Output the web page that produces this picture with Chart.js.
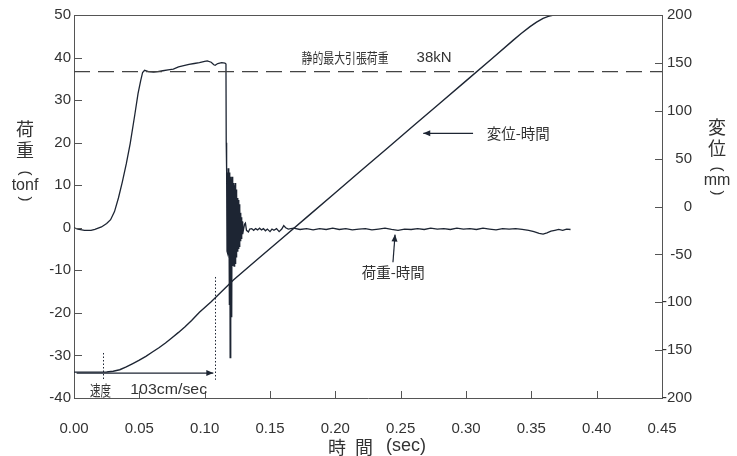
<!DOCTYPE html>
<html><head><meta charset="utf-8">
<script src="https://cdn.jsdelivr.net/npm/chart.js@4.4.1/dist/chart.umd.min.js"></script>
<style>html,body{margin:0;padding:0;background:#fff;} canvas{display:block;}</style>
</head><body>
<canvas id="c" width="737" height="456"></canvas>
<script>
// ---------- data ----------
// load (tonf, left axis) vs time (sec)
const loadTime = [
  0.000,0.003,0.008,0.013,0.016,0.021,0.025,0.028,0.031,0.034,0.037,0.040,0.043,0.0465,0.049,0.051,0.0525,0.054,
  0.057,0.061,0.064,0.068,0.072,0.076,0.080,0.084,0.088,0.092,0.096,0.100,0.102,0.105,0.107,0.108,0.110,0.113,0.1155,0.1163,
  0.1165,0.1168,0.1171,0.1174,0.1177,0.1180,0.1183,0.1186,0.1189,0.1192,0.1195,0.1198,0.1201,0.1204,0.1207,0.1210,
  0.1213,0.1216,0.1219,0.1222,0.1225,0.1228,0.1231,0.1234,0.1237,0.1240,0.1243,0.1246,0.1249,0.1252,0.1255,0.1258,
  0.1261,0.1264,0.1267,0.1270,0.1273,0.1276,0.1279,0.1282,0.1285,0.1288,0.1291,
  0.1296,0.1305,0.1312,0.1320,0.1335,0.1345,0.1360,0.1375,0.1390,0.1405,0.1420,0.1435,0.1450,0.1465,0.1480,0.1500,
  0.1515,0.1530,0.1550,0.1570,0.1590,0.1605,0.1620,0.1640,
  0.168,0.173,0.178,0.183,0.188,0.193,0.198,0.203,0.208,0.213,0.218,0.223,0.228,0.233,0.238,0.243,0.248,0.253,
  0.258,0.263,0.268,0.273,0.278,0.283,0.288,0.293,0.298,0.303,0.308,0.313,0.318,0.323,0.328,0.333,0.338,0.343,
  0.348,0.352,0.356,0.359,0.362,0.365,0.368,0.371,0.374,0.377,0.380
];
const loadValue = [
  0.0,-0.3,-0.6,-0.6,-0.4,0.2,1.0,1.9,3.8,7.0,10.8,15.0,19.8,26.5,31.5,34.5,36.5,37.0,
  36.7,36.6,36.7,36.9,37.1,37.3,37.8,38.1,38.4,38.6,38.8,39.1,39.2,38.9,38.3,38.2,38.6,38.8,38.7,38.5,
  20.0,13.5,-5.5,13.0,-6.0,14.0,-6.5,13.5,-18.0,13.0,-30.5,12.0,-22.0,11.5,-21.0,12.0,
  -9.0,11.0,-8.5,10.5,-9.0,10.0,-8.0,10.5,-8.5,9.0,-7.0,8.0,-5.5,7.0,-5.0,6.5,
  -5.0,5.5,-4.5,4.5,-3.0,3.5,-2.5,2.5,-2.0,1.5,-1.5,
  -0.6,0.8,1.1,-0.6,-1.0,-0.3,-0.2,-0.6,-0.2,-0.5,-0.1,-0.5,-0.2,-0.7,-0.3,-0.9,
  -0.3,-0.6,-0.2,-0.9,-0.3,0.5,0.0,-0.3,
  -0.1,-0.4,-0.2,-0.5,-0.2,-0.4,-0.1,-0.4,-0.2,-0.5,-0.3,-0.2,-0.5,-0.3,-0.1,-0.4,-0.6,-0.3,
  -0.4,-0.2,-0.4,-0.1,-0.3,-0.2,-0.4,-0.1,-0.3,-0.2,-0.4,-0.1,-0.3,-0.5,-0.2,-0.3,-0.2,-0.4,
  -0.6,-0.9,-1.3,-1.5,-1.2,-0.8,-0.6,-0.4,-0.6,-0.3,-0.4
];
// displacement (mm, right axis) vs time (sec)
const dispTime = [
  0.000,0.020,0.025,0.030,0.035,0.040,0.045,0.050,0.055,0.060,0.065,0.070,0.075,0.080,0.085,0.090,0.096,0.105,
  0.122,0.140,0.160,0.180,0.200,0.220,0.240,0.260,0.280,0.300,0.320,0.336,0.342,0.349,0.354,0.359,0.363,0.367
];
const dispValue = [
  -173,-173,-172.8,-172,-170.5,-167.5,-164,-160.5,-156.5,-152,-147.5,-142.5,-137,-131.5,-125.5,-119,-110.5,-99.5,
  -76.8,-55.7,-32.3,-9,14.4,37.8,61.1,84.5,107.8,131.2,154.5,173.5,180.5,187.8,192.5,196.5,198.5,200
];
// static max tensile load reference line (left axis)
const refTime = [0, 0.45];
const refValue = [36.7, 36.7];

// ticks
const xTicks = [0,0.05,0.10,0.15,0.20,0.25,0.30,0.35,0.40,0.45];
const leftTicks = [-40,-30,-20,-10,0,10,20,30,40,50];
const rightTicks = [-200,-150,-100,-50,0,50,100,150,200];

// texts
const xTitle = ['時','間','(sec)'];
const leftTitle = ['荷','重','tonf'];
const rightTitle = ['変','位','mm'];
const refLabel = ['静的最大引張荷重','38kN'];
const dispLabel = '変位-時間';
const loadLabel = '荷重-時間';
const speedLabel = ['速度','103cm/sec'];

// ---------- rendering ----------
const INK = '#1d2533';
const AXIS = '#555';
const TXT = '#333';
const LAT = '"Liberation Sans", Arial, sans-serif';
const CJK = '"Noto Sans CJK JP", sans-serif';

const pts = (xs, ys) => xs.map((x, i) => ({x, y: ys[i]}));

function text(ctx, s, x, y, font, align, targetW, rot) {
  ctx.save();
  ctx.font = font;
  ctx.textBaseline = 'middle';
  ctx.fillStyle = TXT;
  const w = ctx.measureText(s).width;
  let sx = 1;
  if (targetW && w > 0) sx = targetW / w;
  ctx.translate(x, y);
  if (rot) ctx.rotate(rot);
  ctx.scale(sx, 1);
  ctx.textAlign = align || 'left';
  ctx.fillText(s, 0, 0);
  ctx.restore();
}
function arrow(ctx, x1, y1, x2, y2) {
  ctx.save();
  ctx.strokeStyle = INK; ctx.fillStyle = INK; ctx.lineWidth = 1.2;
  ctx.beginPath(); ctx.moveTo(x1, y1); ctx.lineTo(x2, y2); ctx.stroke();
  const ang = Math.atan2(y2 - y1, x2 - x1);
  const L = 7, W = 3;
  ctx.beginPath();
  ctx.moveTo(x2, y2);
  ctx.lineTo(x2 - L*Math.cos(ang) + W*Math.sin(ang), y2 - L*Math.sin(ang) - W*Math.cos(ang));
  ctx.lineTo(x2 - L*Math.cos(ang) - W*Math.sin(ang), y2 - L*Math.sin(ang) + W*Math.cos(ang));
  ctx.closePath(); ctx.fill();
  ctx.restore();
}
function unitTitle(ctx, cx, chars, unit, y1, y2, yo, yu, yc) {
  text(ctx, chars[0], cx, y1, '18px ' + CJK, 'center');
  text(ctx, chars[1], cx, y2, '18px ' + CJK, 'center');
  text(ctx, '(', cx, yo, '15px ' + LAT, 'center', 0, Math.PI / 2);
  text(ctx, unit, cx, yu, '16px ' + LAT, 'center');
  text(ctx, ')', cx, yc, '15px ' + LAT, 'center', 0, Math.PI / 2);
}

const overlay = {
  id: 'overlay',
  beforeDraw(chart) {
    const ctx = chart.ctx;
    ctx.save(); ctx.fillStyle = '#fff'; ctx.fillRect(0, 0, chart.width, chart.height); ctx.restore();
  },
  afterDraw(chart) {
    const ctx = chart.ctx;
    const a = chart.chartArea;
    const {x, y, y2} = chart.scales;
    ctx.save();
    // top border + inward ticks
    ctx.strokeStyle = AXIS; ctx.lineWidth = 1;
    ctx.beginPath();
    ctx.moveTo(a.left, a.top + 0.5); ctx.lineTo(a.right, a.top + 0.5);
    leftTicks.slice(1, -1).forEach(v => { const p = Math.round(y.getPixelForValue(v)) + 0.5; ctx.moveTo(a.left, p); ctx.lineTo(a.left + 8, p); });
    rightTicks.slice(1, -1).forEach(v => { const p = Math.round(y2.getPixelForValue(v)) + 0.5; ctx.moveTo(a.right - 7, p); ctx.lineTo(a.right, p); });
    xTicks.slice(1, -1).forEach(v => { const p = Math.round(x.getPixelForValue(v)) + 0.5; ctx.moveTo(p, a.bottom); ctx.lineTo(p, a.bottom - 7); });
    ctx.stroke();

    // axis titles
    unitTitle(ctx, 25, leftTitle, leftTitle[2], 129, 150, 173, 186, 199);
    unitTitle(ctx, 717, rightTitle, rightTitle[2], 127, 148, 169, 181, 193);
    text(ctx, xTitle[0], 337, 447, '18px ' + CJK, 'center');
    text(ctx, xTitle[1], 364, 447, '18px ' + CJK, 'center');
    text(ctx, xTitle[2], 386, 446, '18px ' + LAT, 'left');

    // reference label
    text(ctx, refLabel[0], x.getPixelForValue(0.1742), y.getPixelForValue(39.9), '14px ' + CJK, 'left', 87);
    text(ctx, refLabel[1], x.getPixelForValue(0.2622), y.getPixelForValue(39.9), '15px ' + LAT, 'left');

    // displacement label + arrow
    text(ctx, dispLabel, x.getPixelForValue(0.3158), y.getPixelForValue(22.3), '15px ' + CJK, 'left', 63);
    arrow(ctx, x.getPixelForValue(0.3054), y.getPixelForValue(22.2), x.getPixelForValue(0.2673), y.getPixelForValue(22.2));

    // load label + arrow
    text(ctx, loadLabel, x.getPixelForValue(0.2202), y.getPixelForValue(-10.4), '15px ' + CJK, 'left', 63);
    arrow(ctx, x.getPixelForValue(0.2441), y.getPixelForValue(-8.1), x.getPixelForValue(0.2457), y.getPixelForValue(-1.6));

    // speed annotation
    arrow(ctx, x.getPixelForValue(0.002), y2.getPixelForValue(-174), x.getPixelForValue(0.1066), y2.getPixelForValue(-174));
    ctx.strokeStyle = INK; ctx.lineWidth = 1; ctx.setLineDash([1.5, 2]);
    ctx.beginPath();
    let px = Math.round(x.getPixelForValue(0.022)) + 0.5;
    ctx.moveTo(px, y2.getPixelForValue(-153)); ctx.lineTo(px, y2.getPixelForValue(-181));
    px = Math.round(x.getPixelForValue(0.1079)) + 0.5;
    ctx.moveTo(px, y2.getPixelForValue(-73.6)); ctx.lineTo(px, y2.getPixelForValue(-181));
    ctx.stroke();
    ctx.setLineDash([]);
    text(ctx, speedLabel[0], x.getPixelForValue(0.0122), y2.getPixelForValue(-191.5), '15px ' + CJK, 'left', 21);
    text(ctx, speedLabel[1], x.getPixelForValue(0.0430), y2.getPixelForValue(-191.5), '15px ' + LAT, 'left', 77);
    ctx.restore();
  }
};

const tickFont = {family: LAT, size: 15};
new Chart(document.getElementById('c'), {
  type: 'line',
  data: {
    datasets: [
      {data: pts(refTime, refValue), yAxisID: 'y', borderColor: '#444', borderWidth: 1.2, borderDash: [16, 8], pointRadius: 0},
      {data: pts(dispTime, dispValue), yAxisID: 'y2', borderColor: INK, borderWidth: 1.4, pointRadius: 0, tension: 0},
      {data: pts(loadTime, loadValue), yAxisID: 'y', borderColor: INK, borderWidth: 1.3, pointRadius: 0, tension: 0}
    ]
  },
  options: {
    responsive: false,
    animation: false,
    devicePixelRatio: 1,
    layout: {padding: {top: 15, left: 0, right: 45, bottom: 0}},
    plugins: {legend: {display: false}, tooltip: {enabled: false}},
    scales: {
      x: {
        type: 'linear', position: 'bottom', min: 0, max: 0.45,
        afterBuildTicks: s => { s.ticks = xTicks.map(v => ({value: v})); },
        afterFit: s => { s.height = 58; },
        ticks: {font: tickFont, color: TXT, padding: 22, maxRotation: 0, autoSkip: false, callback: v => Number(v).toFixed(2)},
        grid: {display: false, drawTicks: false},
        border: {display: true, color: AXIS, width: 1}
      },
      y: {
        type: 'linear', position: 'left', min: -40, max: 50,
        afterBuildTicks: s => { s.ticks = leftTicks.map(v => ({value: v})); },
        afterFit: s => { s.width = 74; },
        ticks: {font: tickFont, color: TXT, padding: 3, autoSkip: false},
        grid: {display: false, drawTicks: false},
        border: {display: true, color: AXIS, width: 1}
      },
      y2: {
        type: 'linear', position: 'right', min: -200, max: 200,
        afterBuildTicks: s => { s.ticks = rightTicks.map(v => ({value: v})); },
        afterFit: s => { s.width = 30; },
        ticks: {font: tickFont, color: TXT, padding: 1, crossAlign: 'far', autoSkip: false},
        grid: {display: false, drawTicks: false},
        border: {display: true, color: AXIS, width: 1}
      }
    }
  },
  plugins: [overlay]
});
</script>
</body></html>
